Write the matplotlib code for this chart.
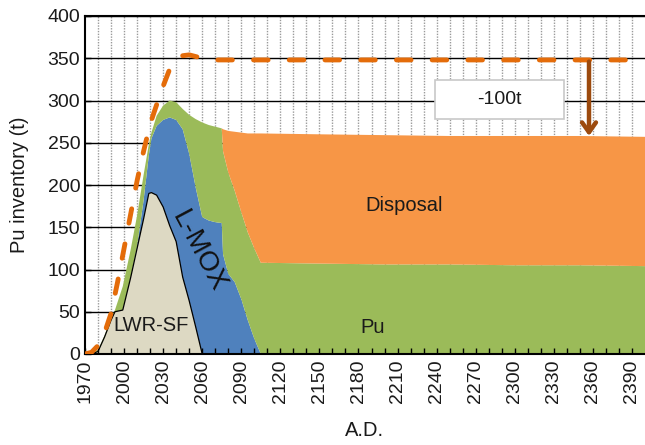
"""Pu inventory stacked area chart (LWR-SF / L-MOX / Pu / Disposal)."""
import numpy as np
import matplotlib
matplotlib.use('Agg')
import matplotlib.pyplot as plt
from matplotlib.patches import Rectangle

plt.rcParams['font.family'] = ['Liberation Sans', 'DejaVu Sans']

# data (t of Pu)
years = [1970, 1975, 1980, 1985, 1990, 1993, 1999, 2005, 2010, 2015, 2019, 2021,
         2025, 2030, 2035, 2040, 2045, 2050, 2055, 2060, 2065, 2070, 2075, 2076,
         2080, 2085, 2090, 2095, 2100, 2105, 2150, 2200, 2250, 2300, 2350, 2400]
lwr_sf = [0, 0, 3, 20, 40, 50, 52, 90, 125, 160, 190, 191,
          188, 174, 152, 133, 91, 63, 32, 0, 0, 0, 0, 0,
          0, 0, 0, 0, 0, 0, 0, 0, 0, 0, 0, 0]
l_mox = [0, 0, 0, 0, 0, 0, 0, 0, 3, 22, 45, 64,
         82, 103, 128, 144, 175, 174, 165, 162, 158, 156, 155, 118,
         95, 85, 65, 40, 18, 0, 0, 0, 0, 0, 0, 0]
pu = [0, 1, 2, 2, 3, 2, 28, 33, 36, 30, 13, 7,
      12, 17, 20, 21, 24, 46, 81, 112, 113, 113, 112, 122,
      120, 108, 103, 104, 107, 108, 107, 106, 106, 105, 105, 104]
disposal = [0, 0, 0, 0, 0, 0, 0, 0, 0, 0, 0, 0,
            0, 0, 0, 0, 0, 0, 0, 0, 0, 0, 0, 26,
            49, 70, 94, 117, 136, 153, 153, 153, 152, 153, 153, 153]

# total Pu demand curve (dashed)
dash_years = [1970, 1975, 1980, 1985, 1990, 1995, 2000, 2005, 2010, 2015, 2020,
              2025, 2030, 2035, 2040, 2045, 2050, 2055, 2060, 2070, 2400]
dash_values = [0, 2, 10, 25, 48, 85, 125, 165, 205, 240, 272,
               295, 317, 337, 348, 353, 354, 352, 350, 348, 348]

xticks = list(range(1970, 2400, 30))

fig = plt.figure(figsize=(6.45, 4.45), dpi=100)
ax = fig.add_axes([85/645, 91/445, 560/645, 338/445])
ax.set_xlim(1970, 2400)
ax.set_ylim(0, 400)

ax.stackplot(years, lwr_sf, l_mox, pu, disposal,
             colors=['#DDD9C3', '#4F81BD', '#9BBB59', '#F79646'],
             linewidth=0, zorder=1)
ax.plot(years, lwr_sf, color='black', lw=0.9, zorder=1.2)

ax.plot(dash_years, dash_values, color='#E46C0A', lw=3.5,
        dashes=(3.0, 4.35), dash_capstyle='round', zorder=3)

# grid lines under the areas
ax.set_yticks(range(0, 401, 50))
for yv in ax.get_yticks():
    ax.axhline(yv, color='black', lw=1.0, zorder=0.5)
for xv in range(1980, 2400, 10):
    ax.axvline(xv, color='#9a9a9a', lw=1.0, ls=(0, (1, 1)), zorder=0.4)

ax.set_xticks(xticks)
ax.set_xticks(range(1970, 2400, 10), minor=True)
ax.tick_params(axis='both', which='both', direction='in', length=4,
               width=1, labelsize=14, colors='black', labelcolor='#1a1a1a')
ax.tick_params(axis='x', labelrotation=90, pad=4)
ax.spines['right'].set_visible(False)
for s in ['left', 'bottom', 'top']:
    ax.spines[s].set_linewidth(1.5)

ax.set_ylabel('Pu inventory (t)', fontsize=14.5, color='#1a1a1a', labelpad=13)
ax.set_xlabel('A.D.', fontsize=14.5, color='#1a1a1a', labelpad=13)

# labels on the areas
ax.text(2215, 176, 'Disposal', fontsize=14.5, ha='center', va='center', color='#1a1a1a')
ax.text(2191, 31, 'Pu', fontsize=14.5, ha='center', va='center', color='#1a1a1a')
ax.text(2021, 34, 'LWR-SF', fontsize=14.5, ha='center', va='center', color='#1a1a1a')
ax.text(2057, 121, 'L-MOX', fontsize=20, ha='center', va='center', color='#111111',
        rotation=-62, rotation_mode='anchor')

# -100t box and arrow
ax.add_patch(Rectangle((2238.5, 278), 99, 46, facecolor='white', edgecolor='#c8c8c8',
                       lw=1.2, zorder=4))
ax.text(2288, 301, '-100t', fontsize=14, ha='center', va='center', color='#1a1a1a', zorder=5)
ax.annotate('', xy=(2357, 258), xytext=(2357, 346),
            arrowprops=dict(arrowstyle='->,head_length=0.7,head_width=0.5',
                            color='#9C4A0E', lw=3.2, shrinkA=0, shrinkB=0),
            zorder=5)

fig.savefig('out.png', dpi=100)
plt.close(fig)
